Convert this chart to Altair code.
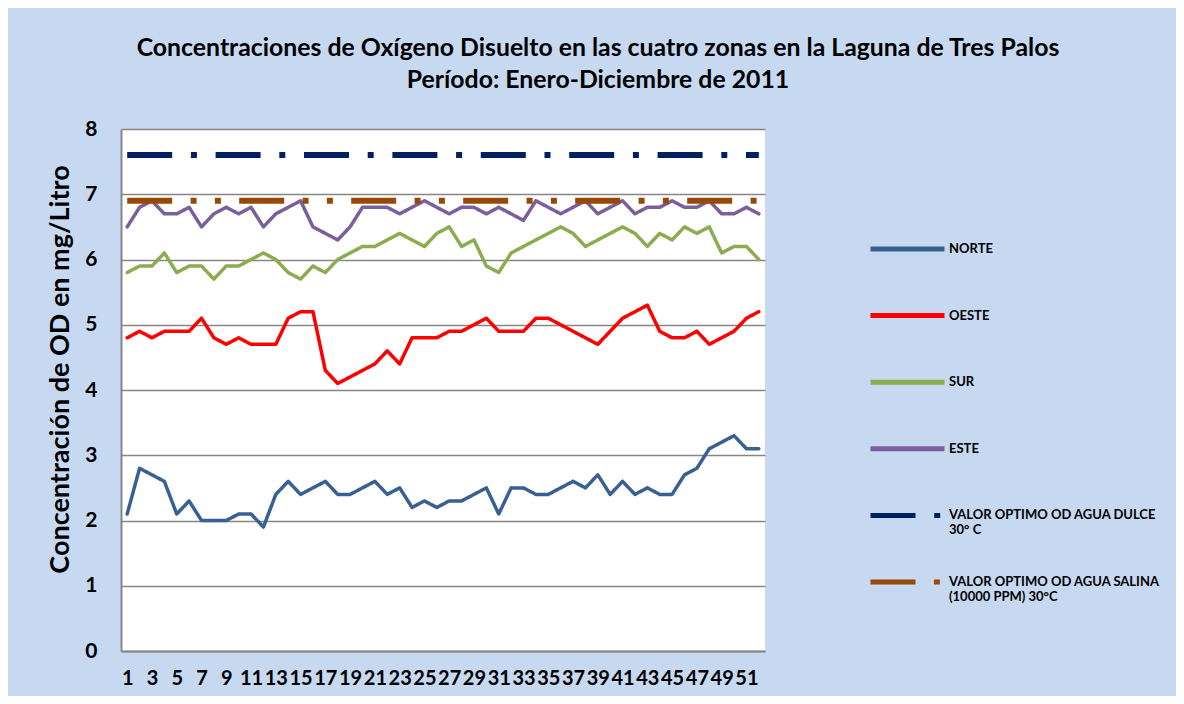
import altair as alt
import pandas as pd

weeks = list(range(1, 53))

NORTE = [2.1, 2.8, 2.7, 2.6, 2.1, 2.3, 2.0, 2.0, 2.0, 2.1,
         2.1, 1.9, 2.4, 2.6, 2.4, 2.5, 2.6, 2.4, 2.4, 2.5,
         2.6, 2.4, 2.5, 2.2, 2.3, 2.2, 2.3, 2.3, 2.4, 2.5,
         2.1, 2.5, 2.5, 2.4, 2.4, 2.5, 2.6, 2.5, 2.7, 2.4,
         2.6, 2.4, 2.5, 2.4, 2.4, 2.7, 2.8, 3.1, 3.2, 3.3,
         3.1, 3.1]
OESTE = [4.8, 4.9, 4.8, 4.9, 4.9, 4.9, 5.1, 4.8, 4.7, 4.8,
         4.7, 4.7, 4.7, 5.1, 5.2, 5.2, 4.3, 4.1, 4.2, 4.3,
         4.4, 4.6, 4.4, 4.8, 4.8, 4.8, 4.9, 4.9, 5.0, 5.1,
         4.9, 4.9, 4.9, 5.1, 5.1, 5.0, 4.9, 4.8, 4.7, 4.9,
         5.1, 5.2, 5.3, 4.9, 4.8, 4.8, 4.9, 4.7, 4.8, 4.9,
         5.1, 5.2]
SUR = [5.8, 5.9, 5.9, 6.1, 5.8, 5.9, 5.9, 5.7, 5.9, 5.9,
       6.0, 6.1, 6.0, 5.8, 5.7, 5.9, 5.8, 6.0, 6.1, 6.2,
       6.2, 6.3, 6.4, 6.3, 6.2, 6.4, 6.5, 6.2, 6.3, 5.9,
       5.8, 6.1, 6.2, 6.3, 6.4, 6.5, 6.4, 6.2, 6.3, 6.4,
       6.5, 6.4, 6.2, 6.4, 6.3, 6.5, 6.4, 6.5, 6.1, 6.2,
       6.2, 6.0]
ESTE = [6.5, 6.8, 6.9, 6.7, 6.7, 6.8, 6.5, 6.7, 6.8, 6.7,
        6.8, 6.5, 6.7, 6.8, 6.9, 6.5, 6.4, 6.3, 6.5, 6.8,
        6.8, 6.8, 6.7, 6.8, 6.9, 6.8, 6.7, 6.8, 6.8, 6.7,
        6.8, 6.7, 6.6, 6.9, 6.8, 6.7, 6.8, 6.9, 6.7, 6.8,
        6.9, 6.7, 6.8, 6.8, 6.9, 6.8, 6.8, 6.9, 6.7, 6.7,
        6.8, 6.7]
DULCE = [7.6] * 52   # constant reference value (7.6 mg/L)
SALINA = [6.9] * 52  # constant reference value (6.9 mg/L)

series_names = [
    "NORTE", "OESTE", "SUR", "ESTE",
    "VALOR OPTIMO OD AGUA DULCE|30° C",
    "VALOR OPTIMO OD AGUA SALINA|(10000 PPM) 30°C",
]
series_values = [NORTE, OESTE, SUR, ESTE, DULCE, SALINA]
is_reference = [False, False, False, False, True, True]
colors = ["#386192", "#FF0000", "#8AAD4F", "#7A5F9C", "#002060", "#984807"]
dashes = [[1, 0], [1, 0], [1, 0], [1, 0],
          [45, 18.7, 6, 18.7],
          [45, 18.4, 6, 18.3, 6, 18.3]]

rows = []
for name, vals, ref in zip(series_names, series_values, is_reference):
    for w, v in zip(weeks, vals):
        rows.append({"semana": w, "valor": v, "serie": name, "ref": ref})
df = pd.DataFrame(rows)

FONT = "Lato"

legend = alt.Legend(
    title=None, orient="none", legendX=747, legendY=87,
    symbolType="stroke", symbolSize=5476, symbolStrokeWidth=5, clipHeight=66,
    labelFont=FONT, labelFontSize=13, labelFontWeight="bold", labelColor="#000000",
    labelLimit=300, labelOffset=2, rowPadding=0.6,
    labelExpr="split(datum.label, '|')", labelBaseline="middle",
)

x_enc = alt.X("semana:Q", scale=alt.Scale(domain=[0.5, 52.5], nice=False, zero=False),
              axis=alt.Axis(values=list(range(1, 52, 2)), format="d", title=None, grid=False,
                            ticks=False, tickSize=0, labelOverlap=False, labelFlush=False,
                            labelFont=FONT, labelFontSize=20, labelFontWeight="bold",
                            labelColor="#000000", labelPadding=17,
                            domainColor="#868686", domainWidth=2))
y_enc = alt.Y("valor:Q", scale=alt.Scale(domain=[0, 8], nice=False),
              axis=alt.Axis(values=list(range(0, 9)), title="Concentración de OD en mg/Litro",
                            grid=True, gridColor="#868686", gridWidth=1.5,
                            ticks=False, tickSize=0, labelPadding=24,
                            labelFont=FONT, labelFontSize=21, labelFontWeight="bold",
                            labelColor="#000000",
                            titleFont=FONT, titleFontSize=27, titleFontWeight="bold",
                            titleColor="#000000", titleX=-61, titleY=240,
                            titleAngle=270, titleAlign="center", titleBaseline="middle",
                            domainColor="#868686", domainWidth=2))
color_enc = alt.Color("serie:N", scale=alt.Scale(domain=series_names, range=colors),
                      sort=series_names, legend=legend)
dash_enc = alt.StrokeDash("serie:N", scale=alt.Scale(domain=series_names, range=dashes),
                          sort=series_names, legend=legend)

base = alt.Chart(df)
zonas = base.transform_filter("!datum.ref").mark_line(
    strokeCap="round", strokeJoin="round", strokeWidth=3.5
).encode(x=x_enc, y=y_enc, color=color_enc, strokeDash=dash_enc)
refs = base.transform_filter("datum.ref").mark_line(
    strokeCap="butt", strokeWidth=6
).encode(x=x_enc, y=y_enc, color=color_enc, strokeDash=dash_enc)

chart = alt.layer(zonas, refs).properties(
    width=644, height=522,
    title=alt.TitleParams(
        text=["Concentraciones de Oxígeno Disuelto en las cuatro zonas en la Laguna de Tres Palos",
              "Período: Enero-Diciembre de 2011"],
        font=FONT, fontSize=24.8, fontWeight="bold", color="#000000",
        anchor="middle", frame="group", dx=155, offset=25, lineHeight=32,
    ),
    background="#C6D9F1",
    padding={"left": 113, "top": 121, "right": 411, "bottom": 45},
    autosize=alt.AutoSizeParams(type="none"),
).configure_view(fill="#FFFFFF", stroke=None)

chart.save("out.html", embed_options={"renderer": "svg", "actions": False})
